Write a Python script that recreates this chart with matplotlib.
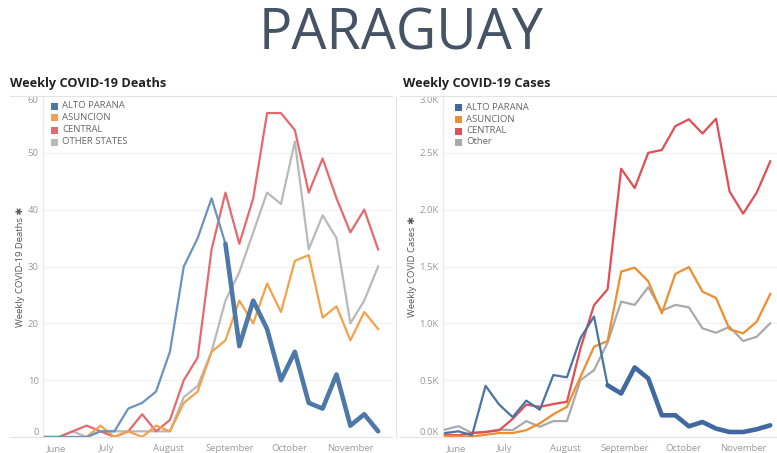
import numpy as np, pandas as pd, matplotlib
matplotlib.use("Agg")
import matplotlib.pyplot as plt
import matplotlib.dates as mdates
from matplotlib.patches import Rectangle
from matplotlib.lines import Line2D

plt.rcParams["font.family"] = ["Open Sans", "DejaVu Sans"]

# ---- data -----------------------------------------------------------------
weeks = pd.date_range("2020-05-31", periods=25, freq="7D")
month_ticks = pd.date_range("2020-06-01", periods=6, freq="MS")
month_labels = ["June", "July", "August", "September", "October", "November"]

deaths_alto = [0, 0, 0, 0, 1, 1, 5, 6, 8, 15, 30, 35, 42, 34, 16, 24, 19, 10, 15, 6, 5, 11, 2, 4, 1]
deaths_asun = [0, 0, 0, 0, 2, 0, 1, 0, 2, 1, 6, 8, 15, 17, 24, 20, 27, 22, 31, 32, 21, 23, 17, 22, 19]
deaths_central = [0, 0, 1, 2, 1, 0, 1, 4, 1, 3, 10, 14, 33, 43, 34, 42, 57, 57, 54, 43, 49, 42, 36, 40, 33]
deaths_other = [0, 0, 1, 0, 1, 1, 1, 1, 1, 1, 7, 9, 15, 24, 29, 36, 43, 41, 52, 33, 39, 35, 20, 24, 30]

cases_alto = [35, 50, 15, 450, 285, 175, 320, 240, 545, 525, 870, 1060, 455, 383, 612, 515,
              191, 191, 94, 132, 74, 44, 44, 68, 103]
cases_asun = [10, 5, 5, 20, 35, 35, 60, 120, 200, 265, 530, 794, 844, 1455, 1490, 1370,
              1088, 1435, 1495, 1279, 1223, 947, 912, 1014, 1258]
cases_central = [20, 15, 35, 44, 59, 160, 285, 265, 290, 310, 780, 1160, 1300, 2360, 2190, 2500,
                 2525, 2735, 2795, 2670, 2800, 2160, 1965, 2150, 2425]
cases_other = [65, 95, 35, 45, 65, 60, 140, 90, 140, 140, 500, 588, 830, 1191, 1162, 1318,
               1110, 1162, 1141, 956, 917, 970, 844, 882, 1000]

deaths_labels = ["ALTO PARANA", "ASUNCION", "CENTRAL", "OTHER STATES"]
cases_labels = ["ALTO PARANA", "ASUNCION", "CENTRAL", "Other"]

W, H = 777, 453
fig = plt.figure(figsize=(W / 100, H / 100), dpi=100)

def fx(x): return x / W
def fy(y): return 1 - y / H

def panel(x0, x1, day_right, series, labels, colors, thick_from, ymax, yticks, yfmt, ylabel,
          title, title_x, leg_sq_x, leg_tx, leg_ys):
    ax = fig.add_axes([fx(x0), fy(437), fx(x1 - x0), fy(96) - fy(437)])
    # grey/red/orange first, blue on top
    for i in [3, 2, 1, 0]:
        vals = series[i]
        if i == 0:
            ax.plot(weeks[:thick_from + 1], vals[:thick_from + 1], color=colors[0][0], lw=1.6,
                    solid_joinstyle="round", solid_capstyle="round", zorder=5)
            ax.plot(weeks[thick_from:], vals[thick_from:], color=colors[0][1], lw=3.3,
                    solid_joinstyle="round", solid_capstyle="round", zorder=6)
        else:
            ax.plot(weeks, vals, color=colors[i][0], lw=1.6, solid_joinstyle="round", zorder=3)
    ax.set_ylim(0, ymax)
    ax.set_xlim(weeks[0] - pd.Timedelta(days=1), weeks[0] + pd.Timedelta(days=day_right))
    ax.set_yticks(yticks)
    ax.set_yticklabels([yfmt(v) for v in yticks])
    ax.set_xticks(month_ticks)
    ax.set_xticklabels(month_labels)
    ax.tick_params(length=0, labelsize=6.8, labelcolor="#9a9a9a", pad=3)
    ax.tick_params(axis="x", pad=5)
    ax.xaxis.get_ticklabels()[0].set_horizontalalignment("left")
    yl = ax.yaxis.get_ticklabels()
    yl[0].set_verticalalignment("bottom")
    yl[-1].set_verticalalignment("top")
    ax.grid(axis="y", color="#f1f1f1", lw=0.8)
    ax.set_axisbelow(True)
    for s in ["top", "right", "bottom"]:
        ax.spines[s].set_visible(False)
    ax.spines["left"].set_color("#e8e8e8")
    ax.spines["left"].set_linewidth(0.8)
    ax.set_ylabel(ylabel, fontsize=6.8, color="#555555", labelpad=2)
    fig.text(fx(title_x), fy(87), title, fontsize=9.2, fontweight="bold", color="#222222",
             va="baseline", ha="left")
    for k, lab in enumerate(labels):
        fig.patches.append(Rectangle((fx(leg_sq_x), fy(leg_ys[k] + 3.5)), fx(7), fy(0) - fy(7),
                                     transform=fig.transFigure, color=colors[k][1], lw=0))
        fig.text(fx(leg_tx), fy(leg_ys[k]), lab, fontsize=6.8, color="#666666", va="center",
                 ha="left")
    return ax

panel(43, 393, 175.5,
      [deaths_alto, deaths_asun, deaths_central, deaths_other], deaths_labels,
      [("#6b93bd", "#4e78a8"), ("#f2a24c", "#f2a24c"), ("#e6696e", "#e6696e"),
       ("#b9b9b9", "#b9b9b9")],
      13, 60, [0, 10, 20, 30, 40, 50, 60], lambda v: f"{v:d}",
      "Weekly COVID-19 Deaths \u2731", "Weekly COVID-19 Deaths", 10,
      51, 62, [106, 118, 130, 142])

panel(443, 777, 171.5,
      [cases_alto, cases_asun, cases_central, cases_other], cases_labels,
      [("#4a73a6", "#3f69a0"), ("#f08d2e", "#f08d2e"), ("#df4f55", "#df4f55"),
       ("#aaaaaa", "#aaaaaa")],
      12, 3000, [0, 500, 1000, 1500, 2000, 2500, 3000], lambda v: f"{v / 1000:.1f}K",
      "Weekly COVID Cases \u2731", "Weekly COVID-19 Cases", 403,
      455, 466, [107, 119, 131, 142])

# panel frame lines (header / footer separators and divider)
for xa, xb in [(10, 392), (400, 777)]:
    for yy in (96, 437):
        fig.add_artist(Line2D([fx(xa), fx(xb)], [fy(yy), fy(yy)], color="#e3e3e3", lw=0.8))
fig.add_artist(Line2D([fx(395.5), fx(395.5)], [fy(96), fy(437)], color="#e3e3e3", lw=0.8))

fig.text(fx(401), fy(50), "PARAGUAY", ha="center", va="baseline", fontsize=40,
         color="#465365")

fig.savefig("out.png", dpi=100)
